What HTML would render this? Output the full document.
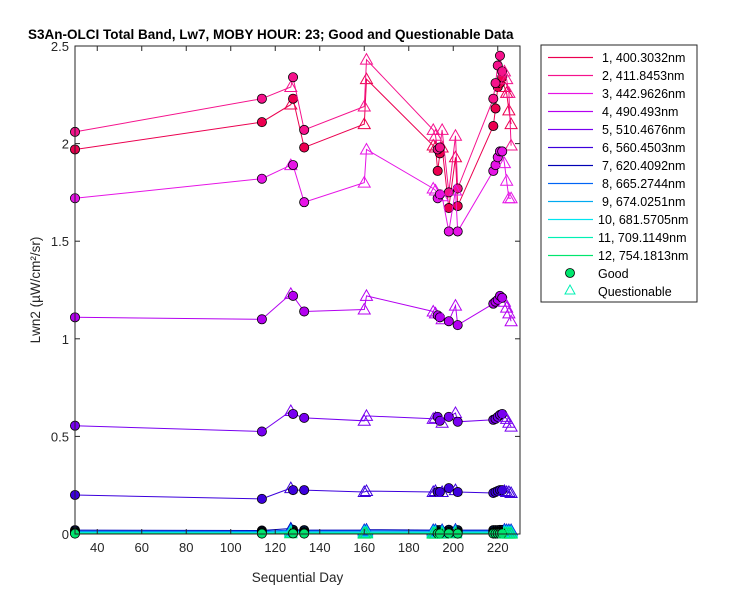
<!DOCTYPE html>
<html><head><meta charset="utf-8">
<style>
body{margin:0;background:#fff;font-family:"Liberation Sans",sans-serif;}
svg text{font-family:"Liberation Sans",sans-serif;}
</style></head>
<body>
<svg id="chart" width="750" height="600" xmlns="http://www.w3.org/2000/svg">
<rect x="0" y="0" width="750" height="600" fill="#fff"/>
<text x="28" y="39" font-size="13.5" font-weight="bold" fill="#000">S3An-OLCI Total Band, Lw7, MOBY HOUR: 23;  Good and Questionable Data</text>
<g id="plot"></g>
<g id="axes"></g>
<g id="legend"></g>
</svg>
<script>
const days=[30,114,127,128,133,160,161,191,192,193,194,195,198,201,202,218,219,220,221,222,223,224,225,226];
const flags=['G','G','Q','G','G','Q','Q','Q','Q','G','G','Q','G','Q','G','G','G','G','G','G','Q','Q','Q','Q'];
const band1=[1.97,2.11,2.20,2.23,1.98,2.10,2.33,1.99,1.98,1.86,1.95,1.98,1.67,1.93,1.68,2.09,2.18,2.29,2.31,2.34,2.29,2.26,2.17,2.10];
const band2=[2.06,2.23,2.29,2.34,2.07,2.19,2.43,2.07,2.04,1.97,1.98,2.07,1.75,2.04,1.77,2.23,2.31,2.40,2.45,2.37,2.37,2.33,2.26,1.99];
const band3=[1.72,1.82,1.89,1.89,1.70,1.80,1.97,1.77,1.76,1.72,1.74,1.73,1.55,1.76,1.55,1.86,1.89,1.93,1.96,1.96,1.90,1.81,1.72,1.72];
const band4=[1.11,1.10,1.23,1.22,1.14,1.15,1.22,1.14,1.13,1.12,1.11,1.10,1.09,1.17,1.07,1.18,1.19,1.20,1.22,1.21,1.19,1.16,1.13,1.09];
const band5=[0.555,0.525,0.63,0.615,0.595,0.58,0.605,0.59,0.595,0.60,0.58,0.57,0.60,0.62,0.575,0.585,0.59,0.60,0.61,0.615,0.60,0.59,0.57,0.55];
const band6=[0.20,0.18,0.235,0.225,0.225,0.215,0.22,0.215,0.22,0.215,0.215,0.215,0.235,0.225,0.215,0.21,0.215,0.22,0.225,0.225,0.22,0.215,0.215,0.21];
const band7=[0.02,0.018,0.028,0.022,0.02,0.02,0.022,0.02,0.02,0.02,0.02,0.02,0.022,0.022,0.02,0.02,0.02,0.02,0.021,0.021,0.022,0.02,0.02,0.02];
const band8=[0.015,0.014,0.02,0.017,0.016,0.016,0.017,0.016,0.016,0.016,0.016,0.016,0.017,0.017,0.016,0.016,0.016,0.016,0.017,0.017,0.017,0.016,0.016,0.016];
const band9=[0.011,0.01,0.015,0.012,0.011,0.011,0.012,0.011,0.011,0.011,0.011,0.011,0.012,0.012,0.011,0.011,0.011,0.011,0.012,0.012,0.012,0.011,0.011,0.011];
const band10=[0.008,0.007,0.011,0.009,0.008,0.008,0.009,0.008,0.008,0.008,0.008,0.008,0.009,0.009,0.008,0.008,0.008,0.008,0.009,0.009,0.009,0.008,0.008,0.008];
const band11=[0.005,0.004,0.007,0.006,0.005,0.005,0.006,0.005,0.005,0.005,0.005,0.005,0.006,0.006,0.005,0.005,0.005,0.005,0.006,0.006,0.006,0.005,0.005,0.005];
const band12=[0.002,0.002,0.004,0.003,0.002,0.002,0.003,0.002,0.002,0.002,0.002,0.002,0.003,0.003,0.002,0.002,0.002,0.002,0.003,0.003,0.003,0.002,0.002,0.002];
const bandNames=['1, 400.3032nm','2, 411.8453nm','3, 442.9626nm','4,  490.493nm','5, 510.4676nm','6, 560.4503nm','7, 620.4092nm','8, 665.2744nm','9, 674.0251nm','10, 681.5705nm','11, 709.1149nm','12, 754.1813nm'];
const xTicks=[40,60,80,100,120,140,160,180,200,220];
const yTicks=[0,0.5,1,1.5,2,2.5];
const colors=['#eb0050','#f5128c','#e614e6','#b400f0','#7800f0','#3c00dc','#0000b4','#0064f5','#00aaf0','#00e6f0','#00f0b4','#00e66e'];
const bands=[band1,band2,band3,band4,band5,band6,band7,band8,band9,band10,band11,band12];

const L=75,R=520,T=46,B=534,xmin=30,xmax=230,ymin=0,ymax=2.5;
const X=v=>L+(v-xmin)/(xmax-xmin)*(R-L);
const Y=v=>B-(v-ymin)/(ymax-ymin)*(B-T);
const NS='http://www.w3.org/2000/svg';
function mk(tag,attrs,parent){const e=document.createElementNS(NS,tag);for(const k in attrs)e.setAttribute(k,attrs[k]);parent.appendChild(e);return e;}
const plot=document.getElementById('plot'),axes=document.getElementById('axes'),leg=document.getElementById('legend');

bands.forEach((vals,bi)=>{
  const g=mk('g',{},plot);
  
  
  const pts=days.map((d,i)=>X(d).toFixed(1)+','+Y(vals[i]).toFixed(1)).join(' ');
  const pl=mk('polyline',{points:pts,fill:'none',stroke:colors[bi],'stroke-width':1},g);
  
  
  days.forEach((d,i)=>{
    const cx=X(d),cy=Y(vals[i]);
    let m;
    if(flags[i]==='G'){
      m=mk('circle',{cx:cx,cy:cy,r:4.6,fill:colors[bi],stroke:'#000','stroke-width':0.8},g);
      
    }else{
      m=mk('polygon',{points:`${cx},${cy-6} ${cx-6},${cy+4.5} ${cx+6},${cy+4.5}`,fill:'none',stroke:colors[bi],'stroke-width':1},g);
      
    }
    
  });
});

mk('rect',{x:L,y:T,width:R-L,height:B-T,fill:'none',stroke:'#262626','stroke-width':1},axes);
xTicks.forEach(t=>{
  const x=X(t);
  mk('line',{x1:x,y1:B,x2:x,y2:B-5,stroke:'#262626'},axes);
  mk('line',{x1:x,y1:T,x2:x,y2:T+5,stroke:'#262626'},axes);
  const tx=mk('text',{x:x,y:B+18,'font-size':13,'text-anchor':'middle',fill:'#262626'},axes);
  tx.textContent=t;
  
  
});
yTicks.forEach(t=>{
  const y=Y(t);
  mk('line',{x1:L,y1:y,x2:L+5,y2:y,stroke:'#262626'},axes);
  mk('line',{x1:R,y1:y,x2:R-5,y2:y,stroke:'#262626'},axes);
  const tx=mk('text',{x:L-6,y:y+5,'font-size':13,'text-anchor':'end',fill:'#262626'},axes);
  tx.textContent=t;
  
  
});
const xl=mk('text',{x:(L+R)/2,y:B+48,'font-size':13.5,'text-anchor':'middle',fill:'#262626'},axes);
xl.textContent='Sequential Day';


const yl=mk('text',{x:0,y:0,'font-size':13.5,'text-anchor':'middle',fill:'#262626',transform:`translate(40,${(T+B)/2}) rotate(-90)`},axes);
yl.textContent='Lwn2 (\u00b5W/cm\u00b2/sr)';



const lb=mk('rect',{x:541,y:45,width:156,height:257,fill:'#fff',stroke:'#262626','stroke-width':1},leg);


bandNames.forEach((n,i)=>{
  const y=57.5+i*18;
  const g=mk('g',{},leg);
  
  
  const ln=mk('rect',{x:548,y:y-0.6,width:45,height:1.2},g);
  ln.style.fill=colors[i];
  const t=mk('text',{x:i>=9?598:602,y:y+4.5,'font-size':12.5,fill:'#000'},g);
  t.textContent=n;
});
const g1=mk('g',{},leg);


mk('circle',{cx:570,cy:273,r:4.5,fill:'#00e66e',stroke:'#000','stroke-width':0.8},g1);
mk('text',{x:598,y:278,'font-size':12.5,fill:'#000'},g1).textContent='Good';
const g2=mk('g',{},leg);


mk('polygon',{points:'570,285 565,294 575,294',fill:'none',stroke:'#00f0b4','stroke-width':1},g2);
mk('text',{x:598,y:296,'font-size':12.5,fill:'#000'},g2).textContent='Questionable';
</script>
</body></html>
